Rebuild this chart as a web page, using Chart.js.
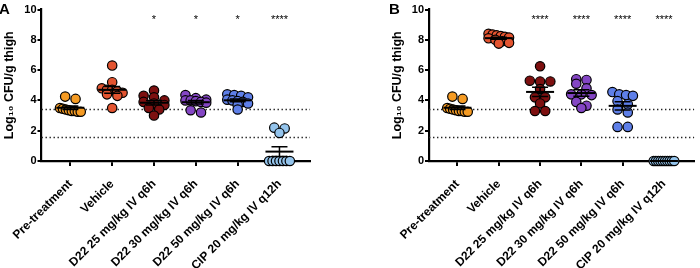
<!DOCTYPE html>
<html>
<head>
<meta charset="utf-8">
<script src="https://cdn.jsdelivr.net/npm/chart.js@4/dist/chart.umd.min.js"></script>
<style>
  body { margin: 0; background: #fff; }
  #wrap { position: relative; width: 700px; height: 268px; }
  canvas { position: absolute; top: 0; }
</style>
</head>
<body>
<div id="wrap">
  <canvas id="chartA" width="350" height="268" style="left:0"></canvas>
  <canvas id="chartB" width="350" height="268" style="left:350px"></canvas>
</div>
<script>
// categories and colours
const categories = ['Pre-treatment', 'Vehicle', 'D22 25 mg/kg IV q6h', 'D22 30 mg/kg IV q6h', 'D22 50 mg/kg IV q6h', 'CIP 20 mg/kg IV q12h'];
const groupColors = ['#F59B23', '#E35430', '#7D1010', '#8446C4', '#5E7FE8', '#94C4EC'];

// Panel A values (log10 CFU/g thigh)
const preA = [4.25, 4.1, 3.5, 3.45, 3.4, 3.35, 3.3, 3.3, 3.25, 3.25];
const vehA = [6.3, 5.2, 4.8, 4.7, 4.7, 4.6, 4.5, 4.4, 4.3, 3.5];
const d25A = [4.65, 4.3, 4.2, 4.0, 3.9, 3.8, 3.7, 3.5, 3.4, 3.0];
const d30A = [4.35, 4.15, 4.05, 4.0, 4.0, 3.95, 3.9, 3.85, 3.35, 3.2];
const d50A = [4.4, 4.35, 4.3, 4.2, 4.05, 4.0, 3.95, 3.9, 3.8, 3.7, 3.4];
const cipA = [2.2, 2.15, 1.85, 0, 0, 0, 0, 0, 0, 0];

// Panel B values
const preB = [4.25, 4.1, 3.5, 3.45, 3.4, 3.35, 3.3, 3.3, 3.25, 3.25];
const vehB = [8.4, 8.35, 8.3, 8.25, 8.2, 8.15, 8.1, 8.0, 7.9, 7.8, 7.75];
const d25B = [6.25, 5.3, 5.25, 5.25, 4.75, 4.2, 4.2, 3.8, 3.3, 3.3];
const d30B = [5.4, 5.35, 5.1, 4.8, 4.4, 4.4, 4.35, 3.9, 3.65, 3.5];
const d50B = [4.55, 4.4, 4.35, 4.3, 3.95, 3.75, 3.4, 3.2, 2.25, 2.25];
const cipB = [0, 0, 0, 0, 0, 0, 0, 0, 0, 0];

const starsA = ['', '', '*', '*', '*', '****'];
const starsB = ['', '', '****', '****', '****', '****'];

// dotted reference lines
const limitLines = [3.4, 1.6];
const yTicks = [0, 2, 4, 6, 8, 10];

// scatter layout (graphpad-like rows)
const PX_PER_CAT = 42.3;
const ROW_TOL = 0.3;
const DOT_GAP = 10.5;
const HALF_W = 10.5;

function swarm(values, idx) {
  const sorted = [...values].sort((a, b) => b - a);
  const rows = [];
  sorted.forEach(v => {
    const row = rows[rows.length - 1];
    if (row && row[0] - v <= ROW_TOL) row.push(v);
    else rows.push([v]);
  });
  const pts = [];
  rows.forEach(row => {
    const k = row.length;
    const gap = k > 1 ? Math.min(DOT_GAP, 2 * HALF_W / (k - 1)) : 0;
    row.forEach((v, j) => pts.push({ x: idx + (j - (k - 1) / 2) * gap / PX_PER_CAT, y: v }));
  });
  return pts;
}

const font = 'Arial, "Liberation Sans", sans-serif';

const panelDecor = {
  id: 'panelDecor',
  beforeDatasetsDraw(chart, args, opts) {
    const { ctx, chartArea, scales: { y } } = chart;
    ctx.save();
    ctx.setLineDash([1.4, 2.6]);
    ctx.lineWidth = 1.4;
    ctx.strokeStyle = '#222';
    limitLines.forEach(v => {
      const py = Math.round(y.getPixelForValue(v)) + 0.5;
      ctx.beginPath();
      ctx.moveTo(chartArea.left, py);
      ctx.lineTo(chartArea.right, py);
      ctx.stroke();
    });
    ctx.restore();
  },
  afterDatasetsDraw(chart, args, opts) {
    const { ctx, scales: { x, y } } = chart;
    ctx.save();
    ctx.strokeStyle = '#000';
    chart.data.datasets.forEach((ds, i) => {
      const vals = ds.data.map(p => p.y);
      const n = vals.length;
      const mean = vals.reduce((a, b) => a + b, 0) / n;
      const sd = Math.sqrt(vals.reduce((a, b) => a + (b - mean) ** 2, 0) / (n - 1));
      const sem = sd / Math.sqrt(n);
      const cx = x.getPixelForValue(i);
      const pm = y.getPixelForValue(mean);
      const ph = y.getPixelForValue(mean + sem);
      const pl = y.getPixelForValue(mean - sem);
      ctx.lineWidth = 2;
      ctx.beginPath();
      ctx.moveTo(cx - 14, pm); ctx.lineTo(cx + 14, pm);
      ctx.stroke();
      ctx.lineWidth = 1.5;
      ctx.beginPath();
      ctx.moveTo(cx, ph); ctx.lineTo(cx, pl);
      ctx.moveTo(cx - 8, ph); ctx.lineTo(cx + 8, ph);
      ctx.moveTo(cx - 8, pl); ctx.lineTo(cx + 8, pl);
      ctx.stroke();
    });
    // significance stars
    ctx.fillStyle = '#000';
    ctx.font = '11px ' + font;
    ctx.textAlign = 'center';
    ctx.textBaseline = 'alphabetic';
    opts.stars.forEach((s, i) => {
      if (s) ctx.fillText(s, x.getPixelForValue(i), y.getPixelForValue(9.08));
    });
    // panel letter
    ctx.font = 'bold 15px ' + font;
    ctx.textAlign = 'left';
    ctx.textBaseline = 'top';
    ctx.fillText(opts.letter, opts.letterX, 2);
    ctx.restore();
  }
};

function makeChart(id, groups, stars, letter, padLeft, padRight) {
  const ctx = document.getElementById(id).getContext('2d');
  return new Chart(ctx, {
    type: 'scatter',
    data: {
      datasets: groups.map((vals, i) => ({
        label: categories[i],
        data: swarm(vals, i),
        backgroundColor: groupColors[i],
        borderColor: '#000',
        borderWidth: 1.2,
        pointRadius: 4.7,
        pointHoverRadius: 4.7,
        clip: false
      }))
    },
    options: {
      responsive: false,
      animation: false,
      layout: { padding: { top: 9.5, left: padLeft, right: padRight, bottom: 0 } },
      plugins: {
        legend: { display: false },
        tooltip: { enabled: false },
        panelDecor: { stars: stars, letter: letter, letterX: padLeft - 1 }
      },
      scales: {
        x: {
          type: 'linear',
          min: -0.69,
          max: 5.73,
          afterBuildTicks: s => { s.ticks = categories.map((c, i) => ({ value: i })); },
          afterFit: s => { s.height = 107; },
          grid: { drawOnChartArea: false, drawTicks: true, tickLength: 5, color: '#000', lineWidth: 2 },
          border: { display: true, color: '#000', width: 2.2 },
          ticks: {
            autoSkip: false,
            minRotation: 45,
            maxRotation: 45,
            padding: 11,
            color: '#000',
            font: { family: font, size: 12, weight: 'bold' },
            callback: v => categories[v]
          }
        },
        y: {
          min: 0,
          max: 10,
          afterBuildTicks: s => { s.ticks = yTicks.map(v => ({ value: v })); },
          afterFit: s => { s.width = 39; },
          grid: { drawOnChartArea: false, drawTicks: true, tickLength: 4, color: '#000', lineWidth: 2 },
          border: { display: true, color: '#000', width: 2.2 },
          ticks: {
            padding: 1,
            color: '#000',
            font: { family: font, size: 11, weight: 'bold' }
          },
          title: {
            display: true,
            text: 'Log₁₀ CFU/g thigh',
            color: '#000',
            padding: { top: 0, bottom: 0 },
            font: { family: font, size: 12.5, weight: 'bold' }
          }
        }
      }
    },
    plugins: [panelDecor]
  });
}

makeChart('chartA', [preA, vehA, d25A, d30A, d50A, cipA], starsA, 'A', 0, 40);
makeChart('chartB', [preB, vehB, d25B, d30B, d50B, cipB], starsB, 'B', 40, 0);
</script>
</body>
</html>
